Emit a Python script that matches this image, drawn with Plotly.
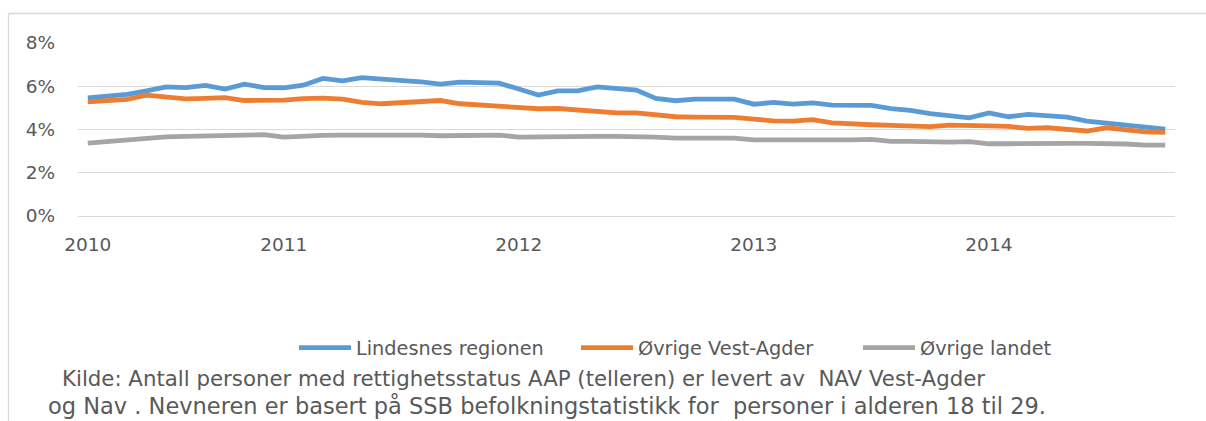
import plotly.graph_objects as go

# Categories: monthly, March 2010 – October 2014
years = [2010] * 10 + [2011] * 12 + [2012] * 12 + [2013] * 12 + [2014] * 10
months = list(range(3, 13)) + list(range(1, 13)) * 3 + list(range(1, 11))
categories = [f"{y}-{m:02d}" for y, m in zip(years, months)]

tick_categories = ["2010-03", "2011-01", "2012-01", "2013-01", "2014-01"]
tick_labels = ["2010", "2011", "2012", "2013", "2014"]

lindesnes = [5.46, 5.53, 5.62, 5.79, 5.97, 5.94, 6.04, 5.87, 6.10, 5.94,
             5.93, 6.05, 6.36, 6.25, 6.40, 6.33, 6.28, 6.20, 6.10, 6.19,
             6.17, 6.14, 5.87, 5.59, 5.79, 5.79, 5.97, 5.90, 5.82, 5.44,
             5.33, 5.40, 5.40, 5.40, 5.17, 5.25, 5.17, 5.23, 5.13, 5.13,
             5.12, 4.97, 4.88, 4.73, 4.65, 4.54, 4.77, 4.59, 4.70, 4.62,
             4.57, 4.39, 4.30, 4.17, 4.08, 4.02]
vest_agder = [5.28, 5.33, 5.39, 5.59, 5.50, 5.42, 5.44, 5.47, 5.34, 5.34,
              5.36, 5.43, 5.45, 5.40, 5.25, 5.19, 5.25, 5.28, 5.34, 5.19,
              5.13, 5.11, 5.00, 4.96, 4.97, 4.91, 4.86, 4.77, 4.77, 4.67,
              4.59, 4.57, 4.57, 4.56, 4.48, 4.40, 4.39, 4.46, 4.31, 4.25,
              4.22, 4.19, 4.16, 4.13, 4.20, 4.20, 4.17, 4.14, 4.05, 4.08,
              4.02, 3.93, 4.08, 3.97, 3.89, 3.87]
landet = [3.37, 3.45, 3.52, 3.60, 3.66, 3.68, 3.69, 3.70, 3.73, 3.76,
          3.65, 3.70, 3.73, 3.74, 3.74, 3.76, 3.77, 3.74, 3.71, 3.72,
          3.74, 3.74, 3.65, 3.67, 3.68, 3.68, 3.68, 3.68, 3.68, 3.65,
          3.60, 3.60, 3.60, 3.60, 3.52, 3.54, 3.52, 3.52, 3.50, 3.52,
          3.54, 3.45, 3.45, 3.42, 3.42, 3.44, 3.34, 3.34, 3.36, 3.36,
          3.36, 3.36, 3.37, 3.33, 3.28, 3.28]

series_names = ["Lindesnes regionen", "Øvrige Vest-Agder", "Øvrige landet"]
series_values = [lindesnes, vest_agder, landet]
series_colors = ["#5B9BD5", "#ED7D31", "#A5A5A5"]

footer_line1 = "Kilde: Antall personer med rettighetsstatus AAP (telleren) er levert av  NAV Vest-Agder"
footer_line2 = "og Nav . Nevneren er basert på SSB befolkningstatistikk for  personer i alderen 18 til 29."

FONT = "'DejaVu Sans', 'Open Sans', sans-serif"
TXT = "#595959"
FRAME = "#D9D9D9"

W, H = 1206, 421
L, R, T, B = 78, 31, 43, 205
PW, PH = W - L - R, H - T - B


def px_x(x):
    return (x - L) / PW


def px_y(y):
    return (H - B - y) / PH


fig = go.Figure()
for name, vals, col in zip(series_names, series_values, series_colors):
    fig.add_trace(go.Scatter(x=categories, y=vals, name=name, mode="lines",
                             line=dict(color=col, width=4.8)))

fig.update_layout(
    width=W, height=H,
    margin=dict(l=L, r=R, t=T, b=B, autoexpand=False),
    paper_bgcolor="white", plot_bgcolor="white",
    font=dict(family=FONT, color=TXT),
    showlegend=True,
    legend=dict(orientation="h", x=px_x(294), xanchor="left", y=px_y(348), yanchor="middle",
                font=dict(size=19.3, color=TXT), itemwidth=52, tracegroupgap=0,
                entrywidth=215, entrywidthmode="pixels",
                bgcolor="rgba(0,0,0,0)"),
    xaxis=dict(type="category", categoryorder="array", categoryarray=categories,
               range=[-0.5, len(categories) - 0.5],
               tickmode="array", tickvals=tick_categories, ticktext=tick_labels,
               showgrid=False, zeroline=False, showline=False, ticks="",
               tickfont=dict(size=18.5, color=TXT), ticklabelstandoff=15),
    yaxis=dict(range=[0, 8], dtick=2, ticksuffix="%", showgrid=True,
               gridcolor="#D9D9D9", gridwidth=1.3, zeroline=True,
               zerolinecolor="#D9D9D9", zerolinewidth=1.3, showline=False,
               ticks="", tickfont=dict(size=18.5, color=TXT), ticklabelstandoff=22),
    shapes=[
        # chart frame: top and left edges (right/bottom lie outside the picture)
        dict(type="line", xref="paper", yref="paper",
             x0=px_x(8.5), x1=px_x(W + 20), y0=px_y(13.5), y1=px_y(13.5),
             line=dict(color=FRAME, width=1.3), layer="below"),
        dict(type="line", xref="paper", yref="paper",
             x0=px_x(8.5), x1=px_x(8.5), y0=px_y(13.5), y1=px_y(H + 20),
             line=dict(color=FRAME, width=1.3), layer="below"),
    ],
    annotations=[
        dict(text=footer_line1, xref="paper", yref="paper", x=px_x(60),
             y=px_y(378), xanchor="left", yanchor="middle", showarrow=False,
             font=dict(size=21.3, color=TXT)),
        dict(text=footer_line2, xref="paper", yref="paper", x=px_x(46),
             y=px_y(406), xanchor="left", yanchor="middle", showarrow=False,
             font=dict(size=22.5, color=TXT)),
    ],
)

fig.write_html(
    "out.html",
    config={"displayModeBar": False},
    post_script="document.body.style.margin='0';document.body.style.overflow='hidden';",
)
